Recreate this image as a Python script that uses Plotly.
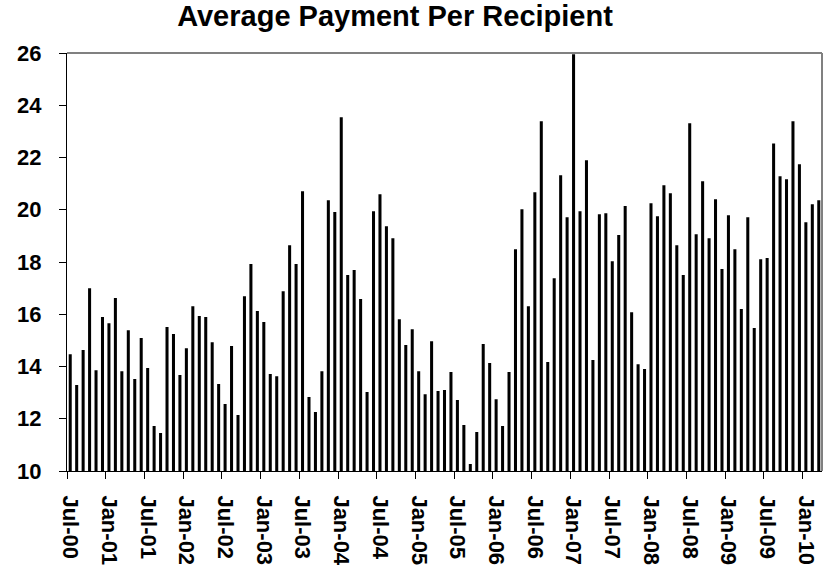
import plotly.graph_objects as go

# Monthly categories Jul-2000 .. Mar-2010
month_names = ["Jan", "Feb", "Mar", "Apr", "May", "Jun",
               "Jul", "Aug", "Sep", "Oct", "Nov", "Dec"]
start_year, start_month, n_months = 2000, 7, 117
categories = []
for k in range(n_months):
    m = (start_month - 1 + k) % 12
    y = start_year + (start_month - 1 + k) // 12
    categories.append(f"{month_names[m]}-{y % 100:02d}")

avg_payment = [
    14.47, 13.29, 14.63, 17.00, 13.86, 15.89, 15.66, 16.62, 13.82, 15.39,
    13.52, 15.09, 13.94, 11.72, 11.45, 15.51, 15.24, 13.67, 14.70, 16.31,
    15.93, 15.89, 14.93, 13.33, 12.56, 14.78, 12.14, 16.69, 17.92, 16.12,
    15.70, 13.71, 13.63, 16.88, 18.64, 17.92, 20.71, 12.83, 12.26, 13.82,
    20.36, 19.91, 23.54, 17.50, 17.69, 16.58, 13.02, 19.94, 20.59, 19.37,
    18.91, 15.81, 14.82, 15.43, 13.82, 12.94, 14.97, 13.06, 13.10, 13.79,
    12.72, 11.76, 10.27, 11.49, 14.86, 14.13, 12.75, 11.72, 13.79, 18.49,
    20.02, 16.31, 20.67, 23.39, 14.17, 17.38, 21.32, 19.71, 25.95, 19.94,
    21.89, 14.25, 19.83, 19.87, 18.03, 19.03, 20.14, 16.08, 14.09, 13.90,
    20.25, 19.75, 20.94, 20.63, 18.64, 17.50, 23.31, 19.06, 21.09, 18.91,
    20.40, 17.73, 19.79, 18.49, 16.20, 19.71, 15.47, 18.11, 18.15, 22.54,
    21.28, 21.17, 23.39, 21.74, 19.52, 20.21, 20.36,
]

tick_labels = ["Jul-00", "Jan-01", "Jul-01", "Jan-02", "Jul-02", "Jan-03",
               "Jul-03", "Jan-04", "Jul-04", "Jan-05", "Jul-05", "Jan-06",
               "Jul-06", "Jan-07", "Jul-07", "Jan-08", "Jul-08", "Jan-09",
               "Jul-09", "Jan-10"]

x_idx = list(range(len(categories)))
label_pos = [categories.index(t) for t in tick_labels]
boundary_pos = [p - 0.5 for p in label_pos]

FONT = "Liberation Sans, Arial, sans-serif"
W, H = 830, 568

fig = go.Figure(go.Bar(
    x=x_idx, y=avg_payment, marker=dict(color="black", line=dict(width=0)),
    customdata=categories,
    hovertemplate="%{customdata}: %{y:.2f}<extra></extra>",
))

fig.update_layout(
    width=W, height=H,
    margin=dict(l=67, r=8, t=53, b=97, autoexpand=False),
    paper_bgcolor="white", plot_bgcolor="white",
    bargap=0.53,
    showlegend=False,
    title=dict(text="Average Payment Per Recipient",
               font=dict(family=FONT, size=29, color="black", weight="bold"),
               x=395 / W, xanchor="center", xref="container",
               y=1 - 15.5 / H, yanchor="middle", yref="container",
               automargin=False),
    font=dict(family=FONT, color="black"),
)

fig.update_xaxes(
    range=[-0.5, len(categories) - 0.5],
    tickmode="array", tickvals=label_pos, ticktext=tick_labels,
    tickangle=90, ticks="", ticklen=0,
    tickfont=dict(family=FONT, size=22, color="black", weight="bold"),
    ticklabelstandoff=19,
    minor=dict(tickmode="array", tickvals=boundary_pos, ticks="outside",
               ticklen=7, tickwidth=1, tickcolor="black", showgrid=False),
    showline=True, linecolor="black", linewidth=1, automargin=False,
    showgrid=False, zeroline=False, fixedrange=True,
)
fig.update_yaxes(
    range=[10, 26], dtick=2, tick0=10,
    ticks="outside", ticklen=7, tickwidth=1, tickcolor="black",
    tickfont=dict(family=FONT, size=22, color="black", weight="bold"),
    ticklabelstandoff=13, automargin=False,
    showline=True, linecolor="black", linewidth=1,
    showgrid=False, zeroline=False, fixedrange=True,
)

# grey plot-area border (top and right)
fig.add_shape(type="line", xref="paper", yref="paper", x0=0, x1=1, y0=1, y1=1,
              line=dict(color="#808080", width=2), layer="above")
fig.add_shape(type="line", xref="paper", yref="paper", x0=1, x1=1, y0=0, y1=1,
              line=dict(color="#808080", width=2), layer="above")

# remove the default 8px page margin so the figure fills the window exactly
fig.write_html("out.html",
               config={"displayModeBar": False},
               post_script="document.body.style.margin='0px';")
